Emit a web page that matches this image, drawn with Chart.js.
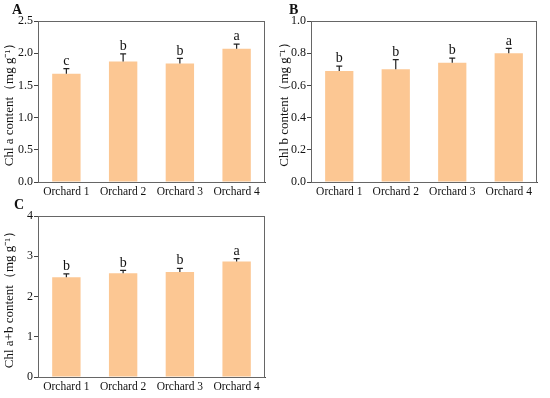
<!DOCTYPE html>
<html>
<head>
<meta charset="utf-8">
<script src="https://cdn.jsdelivr.net/npm/chart.js@4.4.1/dist/chart.umd.min.js"></script>
<style>
  html, body { margin: 0; padding: 0; background: #fff; }
  #wrap { position: relative; width: 550px; height: 398px; overflow: hidden; }
  .panel { position: absolute; width: 275px; height: 200px; }
  .tag { position: absolute; font: bold 14px "Liberation Serif", "Times New Roman", serif; color: #111; }
</style>
</head>
<body>
<div id="wrap">
  <div class="panel" style="left:0;top:0"><canvas id="chartA"></canvas></div>
  <div class="panel" style="left:275px;top:0"><canvas id="chartB"></canvas></div>
  <div class="panel" style="left:0;top:195px"><canvas id="chartC"></canvas></div>
  <div class="tag" style="left:12px;top:2px">A</div>
  <div class="tag" style="left:289px;top:2px">B</div>
  <div class="tag" style="left:14px;top:197px">C</div>
</div>
<script>
// Data
const categories = ['Orchard 1', 'Orchard 2', 'Orchard 3', 'Orchard 4']

const chlA = [1.68, 1.87, 1.84, 2.07]
const chlAErr = [0.08, 0.12, 0.08, 0.07]
const chlALetters = ['c', 'b', 'b', 'a']

const chlB = [0.69, 0.70, 0.74, 0.80]
const chlBErr = [0.03, 0.06, 0.03, 0.03]
const chlBLetters = ['b', 'b', 'b', 'a']

const chlAB = [2.48, 2.58, 2.61, 2.87]
const chlABErr = [0.08, 0.07, 0.09, 0.07]
const chlABLetters = ['b', 'b', 'b', 'a']

const SERIF = '"Liberation Serif", "Times New Roman", serif'
const BAR_COLOR = '#FCC793'
const AXIS_COLOR = '#444'

// Error bars (upper only), significance letters and the frame box
const annotate = {
  id: 'annotate',
  afterDatasetsDraw(chart, args, opts) {
    const { ctx, chartArea } = chart
    const x = chart.scales.x
    const y = chart.scales.y
    const vals = chart.data.datasets[0].data
    ctx.save()
    ctx.strokeStyle = '#222'
    ctx.lineWidth = 1.2
    ctx.fillStyle = '#111'
    ctx.font = '14px ' + SERIF
    ctx.textAlign = 'center'
    ctx.textBaseline = 'bottom'
    vals.forEach((v, i) => {
      const cx = x.getPixelForValue(i)
      const y0 = y.getPixelForValue(v)
      const y1 = y.getPixelForValue(v + opts.err[i])
      ctx.beginPath()
      ctx.moveTo(cx, y0)
      ctx.lineTo(cx, y1)
      ctx.moveTo(cx - 3, y1)
      ctx.lineTo(cx + 3, y1)
      ctx.stroke()
      ctx.fillText(opts.letters[i], cx, y1 - 0.5)
    })
    ctx.strokeStyle = '#666'
    ctx.lineWidth = 1
    ctx.strokeRect(chartArea.left + 0.5, chartArea.top + 0.5,
      chartArea.right - chartArea.left - 1, chartArea.bottom - chartArea.top)
    ctx.restore()
  }
}

function renderPanel(canvasId, values, err, letters, yMax, yStep, title, padRight, axisWidth, decimals) {
  const canvas = document.getElementById(canvasId)
  return new Chart(canvas.getContext('2d'), {
    type: 'bar',
    data: {
      labels: categories,
      datasets: [{
        data: values,
        backgroundColor: BAR_COLOR,
        borderWidth: 0,
        barPercentage: 1,
        categoryPercentage: 0.5,
      }],
    },
    options: {
      responsive: true,
      maintainAspectRatio: false,
      animation: false,
      devicePixelRatio: 1,
      layout: { padding: { top: 21, right: padRight, left: 0, bottom: 0 } },
      plugins: {
        legend: { display: false },
        tooltip: { enabled: false },
        annotate: { err, letters },
      },
      scales: {
        x: {
          grid: { display: false, drawTicks: false, tickLength: 0 },
          border: { display: true, color: AXIS_COLOR, width: 1 },
          ticks: { color: '#111', font: { family: SERIF, size: 11.5 }, padding: 3, maxRotation: 0 },
          afterFit(scale) { scale.height = 18 },
        },
        y: {
          min: 0,
          max: yMax,
          grid: { drawOnChartArea: false, drawTicks: true, tickLength: 4, color: AXIS_COLOR },
          border: { display: true, color: AXIS_COLOR, width: 1 },
          ticks: {
            stepSize: yStep,
            color: '#111',
            font: { family: SERIF, size: 12 },
            padding: 1,
            callback: v => v.toFixed(decimals),
          },
          title: {
            display: true,
            text: title,
            color: '#111',
            font: { family: SERIF, size: 13 },
            padding: { top: 2, bottom: 0 },
          },
          afterFit(scale) { scale.width = axisWidth },
        },
      },
    },
    plugins: [annotate],
  })
}

renderPanel('chartA', chlA, chlAErr, chlALetters, 2.5, 0.5, 'Chl a content（mg g⁻¹）', 10, 38, 1)
renderPanel('chartB', chlB, chlBErr, chlBLetters, 1.0, 0.2, 'Chl b content（mg g⁻¹）', 13, 36, 1)
renderPanel('chartC', chlAB, chlABErr, chlABLetters, 4, 1, 'Chl a+b content（mg g⁻¹）', 10, 38, 0)
</script>
</body>
</html>
